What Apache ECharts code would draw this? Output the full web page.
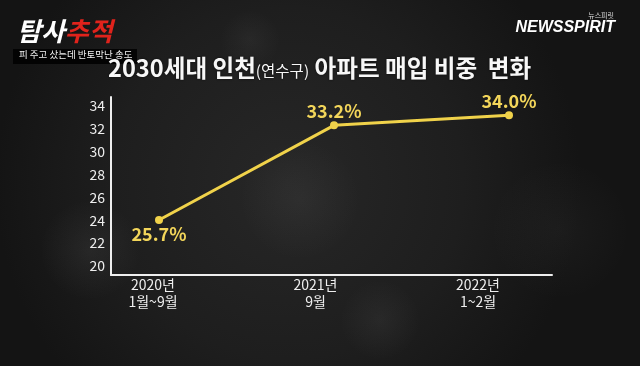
<!DOCTYPE html>
<html><head><meta charset="utf-8">
<script src="https://cdn.jsdelivr.net/npm/echarts@6/dist/echarts.min.js"></script>
<style>html,body{margin:0;padding:0;background:#1c1c1c}#c{width:640px;height:366px}</style>
</head><body><div id="c"></div>
<script>
const categories = ['2020년\n1월~9월', '2021년\n9월', '2022년\n1~2월'];
const shareValues = [25.7, 33.2, 34.0];
const yTickMin = 20, yTickMax = 34, yTickStep = 2;
const titleMain1 = '2030세대 인천';
const titleSub = '(연수구)';
const titleMain2 = ' 아파트 매입 비중  변화';

const chart = echarts.init(document.getElementById('c'), null, {renderer: 'canvas'});
const KR = '"Noto Sans CJK KR", "Noto Sans", sans-serif';
const yellow = '#f0d24a';
const white = '#eeeeee';

function smudge(cx, cy, rx, ry, a) {
  return {type: 'ellipse', silent: true, z: -10, shape: {cx: cx, cy: cy, rx: rx, ry: ry},
    style: {fill: {type: 'radial', x: 0.5, y: 0.5, r: 0.5,
      colorStops: [{offset: 0, color: 'rgba(200,200,200,' + a + ')'}, {offset: 1, color: 'rgba(200,200,200,0)'}]}}};
}

const option = {
  animation: false,
  backgroundColor: {
    type: 'radial', x: 0.45, y: 0.5, r: 0.8,
    colorStops: [{offset: 0, color: '#272727'}, {offset: 0.6, color: '#1e1e1e'}, {offset: 1, color: '#141414'}]
  },
  grid: [
    {left: 111, right: 88, top: 97, bottom: 91},
    {left: 153, right: 162, top: 106, bottom: 100},
    {left: 159, right: 131, top: 90, bottom: 74}
  ],
  xAxis: [
    {gridIndex: 0, type: 'value', min: 0, max: 1, axisLine: {show: true, onZero: false, lineStyle: {color: white, width: 2}},
     axisTick: {show: false}, axisLabel: {show: false}, splitLine: {show: false}},
    {gridIndex: 1, type: 'category', data: categories, boundaryGap: false,
     axisLine: {show: false}, axisTick: {show: false}, splitLine: {show: false},
     axisLabel: {color: white, fontSize: 14, fontFamily: KR, lineHeight: 17, margin: 10, interval: 0}},
    {gridIndex: 2, type: 'category', data: categories, boundaryGap: false, show: false}
  ],
  yAxis: [
    {gridIndex: 0, type: 'value', min: 0, max: 1, axisLine: {show: true, onZero: false, lineStyle: {color: white, width: 2}},
     axisTick: {show: false}, axisLabel: {show: false}, splitLine: {show: false}},
    {gridIndex: 1, type: 'value', min: yTickMin, max: yTickMax, interval: yTickStep,
     axisLine: {show: false}, axisTick: {show: false}, splitLine: {show: false},
     axisLabel: {color: white, fontSize: 14, fontFamily: KR, margin: 48}},
    {gridIndex: 2, type: 'value', min: 20, max: 36, show: false}
  ],
  series: [{
    type: 'line', xAxisIndex: 2, yAxisIndex: 2,
    data: shareValues.map((v, i) => ({value: v, label: {position: i === 0 ? 'bottom' : 'top'}})),
    lineStyle: {color: yellow, width: 3},
    itemStyle: {color: yellow},
    symbol: 'circle', symbolSize: 8,
    label: {show: true, color: '#f3d65a', fontSize: 18, fontWeight: 'bold', fontFamily: KR, distance: 1,
      formatter: p => p.value.toFixed(1) + '%'}
  }],
  graphic: [
    smudge(90, 250, 120, 50, 0.07),
    smudge(300, 200, 160, 60, 0.05),
    smudge(380, 320, 200, 40, 0.06),
    smudge(560, 230, 90, 70, 0.04),
    smudge(250, 40, 150, 30, 0.05),
    {type: 'text', left: 17, top: 18, style: {
      text: '{w|탐사}{r|추적}', rich: {
        w: {fill: '#ffffff', fontSize: 26, fontWeight: 'bold', fontStyle: 'italic', fontFamily: KR},
        r: {fill: '#e0231c', fontSize: 26, fontWeight: 'bold', fontStyle: 'italic', fontFamily: KR}
      }}},
    {type: 'rect', shape: {x: 13, y: 49, width: 124, height: 15}, style: {fill: 'rgba(0,0,0,0.85)'}},
    {type: 'text', left: 19, top: 50, style: {text: '피 주고 샀는데 반토막난 송도', fill: '#f2f2f2', fontSize: 9.5, fontFamily: KR}},
    {type: 'text', x: 108, y: 68, style: {
      text: '{a|' + titleMain1 + '}{b|' + titleSub + '}{a|' + titleMain2 + '}',
      verticalAlign: 'middle',
      rich: {
        a: {fill: '#f7f7f7', fontSize: 23.6, fontWeight: 'bold', fontFamily: KR, verticalAlign: 'bottom'},
        b: {fill: '#f7f7f7', fontSize: 15.5, fontFamily: KR, verticalAlign: 'bottom', padding: [0, 0, 1, 0]}
      },
      textShadowColor: 'rgba(0,0,0,0.6)', textShadowBlur: 3}},
    {type: 'text', x: 615, y: 28, style: {text: 'NEWSSPIRIT', fill: '#ffffff', fontSize: 16, fontWeight: 'bold',
      fontStyle: 'italic', fontFamily: '"Liberation Sans", Arial, sans-serif', align: 'right', verticalAlign: 'middle'}},
    {type: 'text', x: 614, y: 15, style: {text: '뉴스피릿', fill: '#dddddd', fontSize: 7, fontFamily: KR, align: 'right', verticalAlign: 'middle'}}
  ]
};
chart.setOption(option);
</script></body></html>
